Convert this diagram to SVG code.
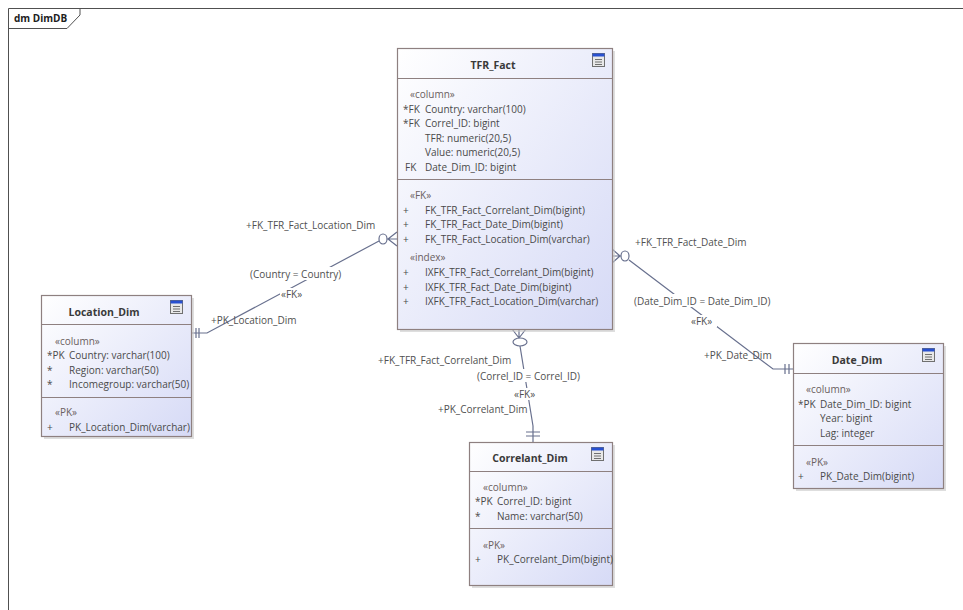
<svg xmlns="http://www.w3.org/2000/svg" width="963" height="610" viewBox="0 0 963 610">
<style>
text{font-family:"Open Sans","Liberation Sans",sans-serif;font-size:10px;fill:#4a4a4a}
.t{font-weight:bold;text-anchor:middle;font-size:10.5px;fill:#3a3a3a}
.st{fill:#6a6060}
.box{fill:url(#g);stroke:#8e8080;stroke-width:1.2}
.sh{fill:#c8c8c8;opacity:0.6}
.sep{stroke:#8e8080;stroke-width:1.2}
.cn{fill:none;stroke:#68708e;stroke-width:1.2}
.lbl{fill:#505050}
.bg{fill:#fff}
</style>
<defs>
<linearGradient id="g" x1="0" y1="0" x2="1" y2="1">
<stop offset="0" stop-color="#ffffff"/>
<stop offset="1" stop-color="#d6daf6"/>
</linearGradient>
<g id="icon">
<rect x="0" y="0" width="12" height="13" fill="#e8e8e8" stroke="#707070" stroke-width="1"/>
<rect x="0" y="0" width="12" height="3" fill="#2850d0"/>
<path d="M2.5 6H9.5M2.5 8.5H9.5M2.5 11H9.5" stroke="#707070" stroke-width="1"/>
</g>
</defs>
<rect width="963" height="610" fill="#fff"/>
<g id="frame">
<path d="M8.5 610V8.5H963" fill="none" stroke="#505050" stroke-width="1"/>
<path d="M8.5 28.5H67L80 15V8.5" fill="none" stroke="#505050" stroke-width="1"/>
<text x="14" y="22" style="font-weight:bold;font-size:10px;fill:#202020">dm DimDB</text>
</g>

<g id="connectors">
<!-- Location -->
<path class="cn" d="M192 333H207L379 241"/>
<ellipse class="cn" cx="383" cy="239" rx="4" ry="5"/>
<path class="cn" d="M387 239H397M388 239L397 232M388 239L397 246"/>
<path class="cn" d="M196 328V338M199 328V338"/>
<!-- Date -->
<path class="cn" d="M629 260L773 369H793"/>
<ellipse class="cn" cx="625" cy="256" rx="4" ry="5"/>
<path class="cn" d="M621 256H612M620 256L612 249M620 256L612 263"/>
<path class="cn" d="M785 364V374M789 364V374"/>
<!-- Correlant -->
<path class="cn" d="M520 346L533 426V442"/>
<ellipse class="cn" cx="520" cy="342" rx="7" ry="4"/>
<path class="cn" d="M519 338V329M519 338L512 329M519 338L526 329"/>
<path class="cn" d="M526 432H540M526 436H540"/>
<!-- labels -->
<text class="lbl" x="246" y="229">+FK_TFR_Fact_Location_Dim</text>
<rect class="bg" x="249" y="267" width="93" height="13"/>
<text class="lbl" x="250" y="278">(Country = Country)</text>
<rect class="bg" x="280" y="288" width="27" height="12"/>
<text class="lbl" x="281" y="298">«FK»</text>
<text class="lbl" x="211" y="324">+PK_Location_Dim</text>

<text class="lbl" x="635" y="246">+FK_TFR_Fact_Date_Dim</text>
<rect class="bg" x="632" y="294" width="142" height="13"/>
<text class="lbl" x="634" y="305">(Date_Dim_ID = Date_Dim_ID)</text>
<rect class="bg" x="690" y="315" width="27" height="12"/>
<text class="lbl" x="691" y="325">«FK»</text>
<text class="lbl" x="704" y="359">+PK_Date_Dim</text>

<text class="lbl" x="378" y="364">+FK_TFR_Fact_Correlant_Dim</text>
<rect class="bg" x="475" y="369" width="106" height="13"/>
<text class="lbl" x="477" y="380">(Correl_ID = Correl_ID)</text>
<rect class="bg" x="513" y="388" width="27" height="12"/>
<text class="lbl" x="514" y="398">«FK»</text>
<text class="lbl" x="438" y="413">+PK_Correlant_Dim</text>
</g>

<g id="TFR_Fact">
<rect class="sh" x="400" y="51" width="215" height="281"/>
<rect class="box" x="397.5" y="48.5" width="215" height="281"/>
<path class="sep" d="M397.5 78.5H612.5M397.5 179.5H612.5"/>
<use href="#icon" x="592.5" y="53.5"/>
<text class="t" x="493" y="69">TFR_Fact</text>
<text class="st" x="410" y="98">«column»</text>
<text x="403" y="113">*FK</text><text x="425" y="113">Country: varchar(100)</text>
<text x="403" y="127">*FK</text><text x="425" y="127">Correl_ID: bigint</text>
<text x="425" y="142">TFR: numeric(20,5)</text>
<text x="425" y="156">Value: numeric(20,5)</text>
<text x="405" y="171">FK</text><text x="425" y="171">Date_Dim_ID: bigint</text>
<text class="st" x="410" y="199">«FK»</text>
<text x="403" y="214">+</text><text x="425" y="214">FK_TFR_Fact_Correlant_Dim(bigint)</text>
<text x="403" y="228">+</text><text x="425" y="228">FK_TFR_Fact_Date_Dim(bigint)</text>
<text x="403" y="243">+</text><text x="425" y="243">FK_TFR_Fact_Location_Dim(varchar)</text>
<text class="st" x="410" y="261">«index»</text>
<text x="403" y="276">+</text><text x="425" y="276">IXFK_TFR_Fact_Correlant_Dim(bigint)</text>
<text x="403" y="291">+</text><text x="425" y="291">IXFK_TFR_Fact_Date_Dim(bigint)</text>
<text x="403" y="305">+</text><text x="425" y="305">IXFK_TFR_Fact_Location_Dim(varchar)</text>
</g>

<g id="Location_Dim">
<rect class="sh" x="44" y="298" width="150" height="141"/>
<rect class="box" x="41.5" y="295.5" width="150" height="141"/>
<path class="sep" d="M41.5 324.5H191.5M41.5 397.5H191.5"/>
<use href="#icon" x="170.5" y="300.5"/>
<text class="t" x="104" y="316">Location_Dim</text>
<text class="st" x="55" y="345">«column»</text>
<text x="47" y="359">*PK</text><text x="69" y="359">Country: varchar(100)</text>
<text x="47" y="374">*</text><text x="69" y="374">Region: varchar(50)</text>
<text x="47" y="388">*</text><text x="69" y="388">Incomegroup: varchar(50)</text>
<text class="st" x="55" y="416">«PK»</text>
<text x="47" y="431">+</text><text x="69" y="431">PK_Location_Dim(varchar)</text>
</g>

<g id="Date_Dim">
<rect class="sh" x="796" y="346" width="150" height="145"/>
<rect class="box" x="793.5" y="343.5" width="150" height="145"/>
<path class="sep" d="M793.5 373.5H943.5M793.5 445.5H943.5"/>
<use href="#icon" x="922.5" y="348.5"/>
<text class="t" x="857" y="364">Date_Dim</text>
<text class="st" x="806" y="393">«column»</text>
<text x="798" y="408">*PK</text><text x="820" y="408">Date_Dim_ID: bigint</text>
<text x="820" y="422">Year: bigint</text>
<text x="820" y="437">Lag: integer</text>
<text class="st" x="806" y="466">«PK»</text>
<text x="798" y="480">+</text><text x="820" y="480">PK_Date_Dim(bigint)</text>
</g>

<g id="Correlant_Dim">
<rect class="sh" x="472" y="445" width="143" height="143"/>
<rect class="box" x="469.5" y="442.5" width="143" height="143"/>
<path class="sep" d="M469.5 471.5H612.5M469.5 528.5H612.5"/>
<use href="#icon" x="591.5" y="447.5"/>
<text class="t" x="530" y="462">Correlant_Dim</text>
<text class="st" x="483" y="491">«column»</text>
<text x="475" y="505">*PK</text><text x="497" y="505">Correl_ID: bigint</text>
<text x="475" y="520">*</text><text x="497" y="520">Name: varchar(50)</text>
<text class="st" x="483" y="549">«PK»</text>
<text x="475" y="563">+</text><text x="497" y="563">PK_Correlant_Dim(bigint)</text>
</g>
</svg>
